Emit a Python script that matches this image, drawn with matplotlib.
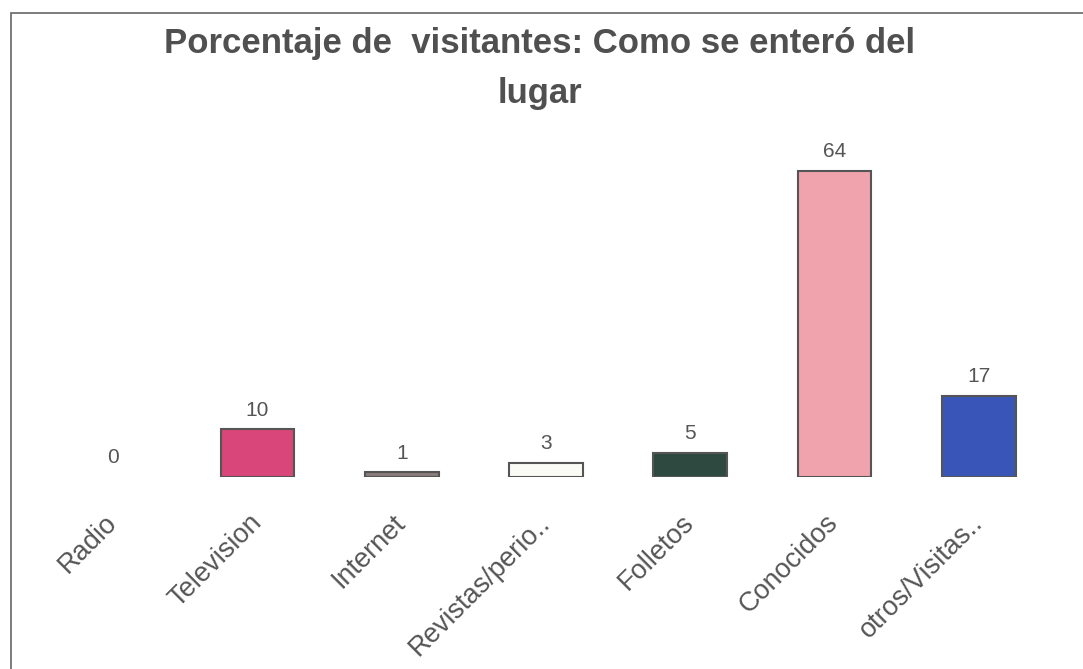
import matplotlib
matplotlib.use("Agg")
import matplotlib.pyplot as plt
from matplotlib.patches import Rectangle

categories = ["Radio", "Television", "Internet", "Revistas/perio..", "Folletos", "Conocidos", "otros/Visitas.."]
values = [0, 10, 1, 3, 5, 64, 17]
colors = ["#c0c0c0", "#d9467a", "#8c7c7c", "#fbfbf6", "#2e4a40", "#f0a3ad", "#3a55b8"]
title = "Porcentaje de  visitantes: Como se enteró del\nlugar"

plt.rcParams['font.family'] = ['Liberation Sans', 'DejaVu Sans']

fig = plt.figure(figsize=(10.83, 6.69), dpi=100)
ax = fig.add_axes([41/1083, 1 - 477/669, (1051 - 41)/1083, (477 - 142)/669])

x = list(range(len(categories)))
edges = ["none" if v == 0 else "#555555" for v in values]
ax.bar(x, values, width=0.51, color=colors, edgecolor=edges, linewidth=1.5)
for xi, v in zip(x, values):
    ax.text(xi, v + 2.0, str(v), ha="center", va="bottom", fontsize=15, color="#555555")

ax.set_xlim(-0.5, len(categories) - 0.5)
ax.set_ylim(0, 70)
ax.set_yticks([])
ax.set_xticks(x)
ax.set_xticklabels(categories, rotation=45, ha="right", va="center", rotation_mode="anchor",
                   fontsize=19.5, color="#555555")
ax.tick_params(axis="x", length=0, pad=30)
for s in ax.spines.values():
    s.set_visible(False)

fig.text(540/1083, 1 - 27/669, title, ha="center", va="top", fontsize=25, fontweight="bold",
         color="#505050", linespacing=1.65)

fig.patches.append(Rectangle((11/1083, -0.05), 1.1, 1 - 13/669 + 0.05, transform=fig.transFigure,
                             fill=False, edgecolor="#666666", linewidth=1.2))

fig.savefig("out.png", dpi=100, facecolor="white")
